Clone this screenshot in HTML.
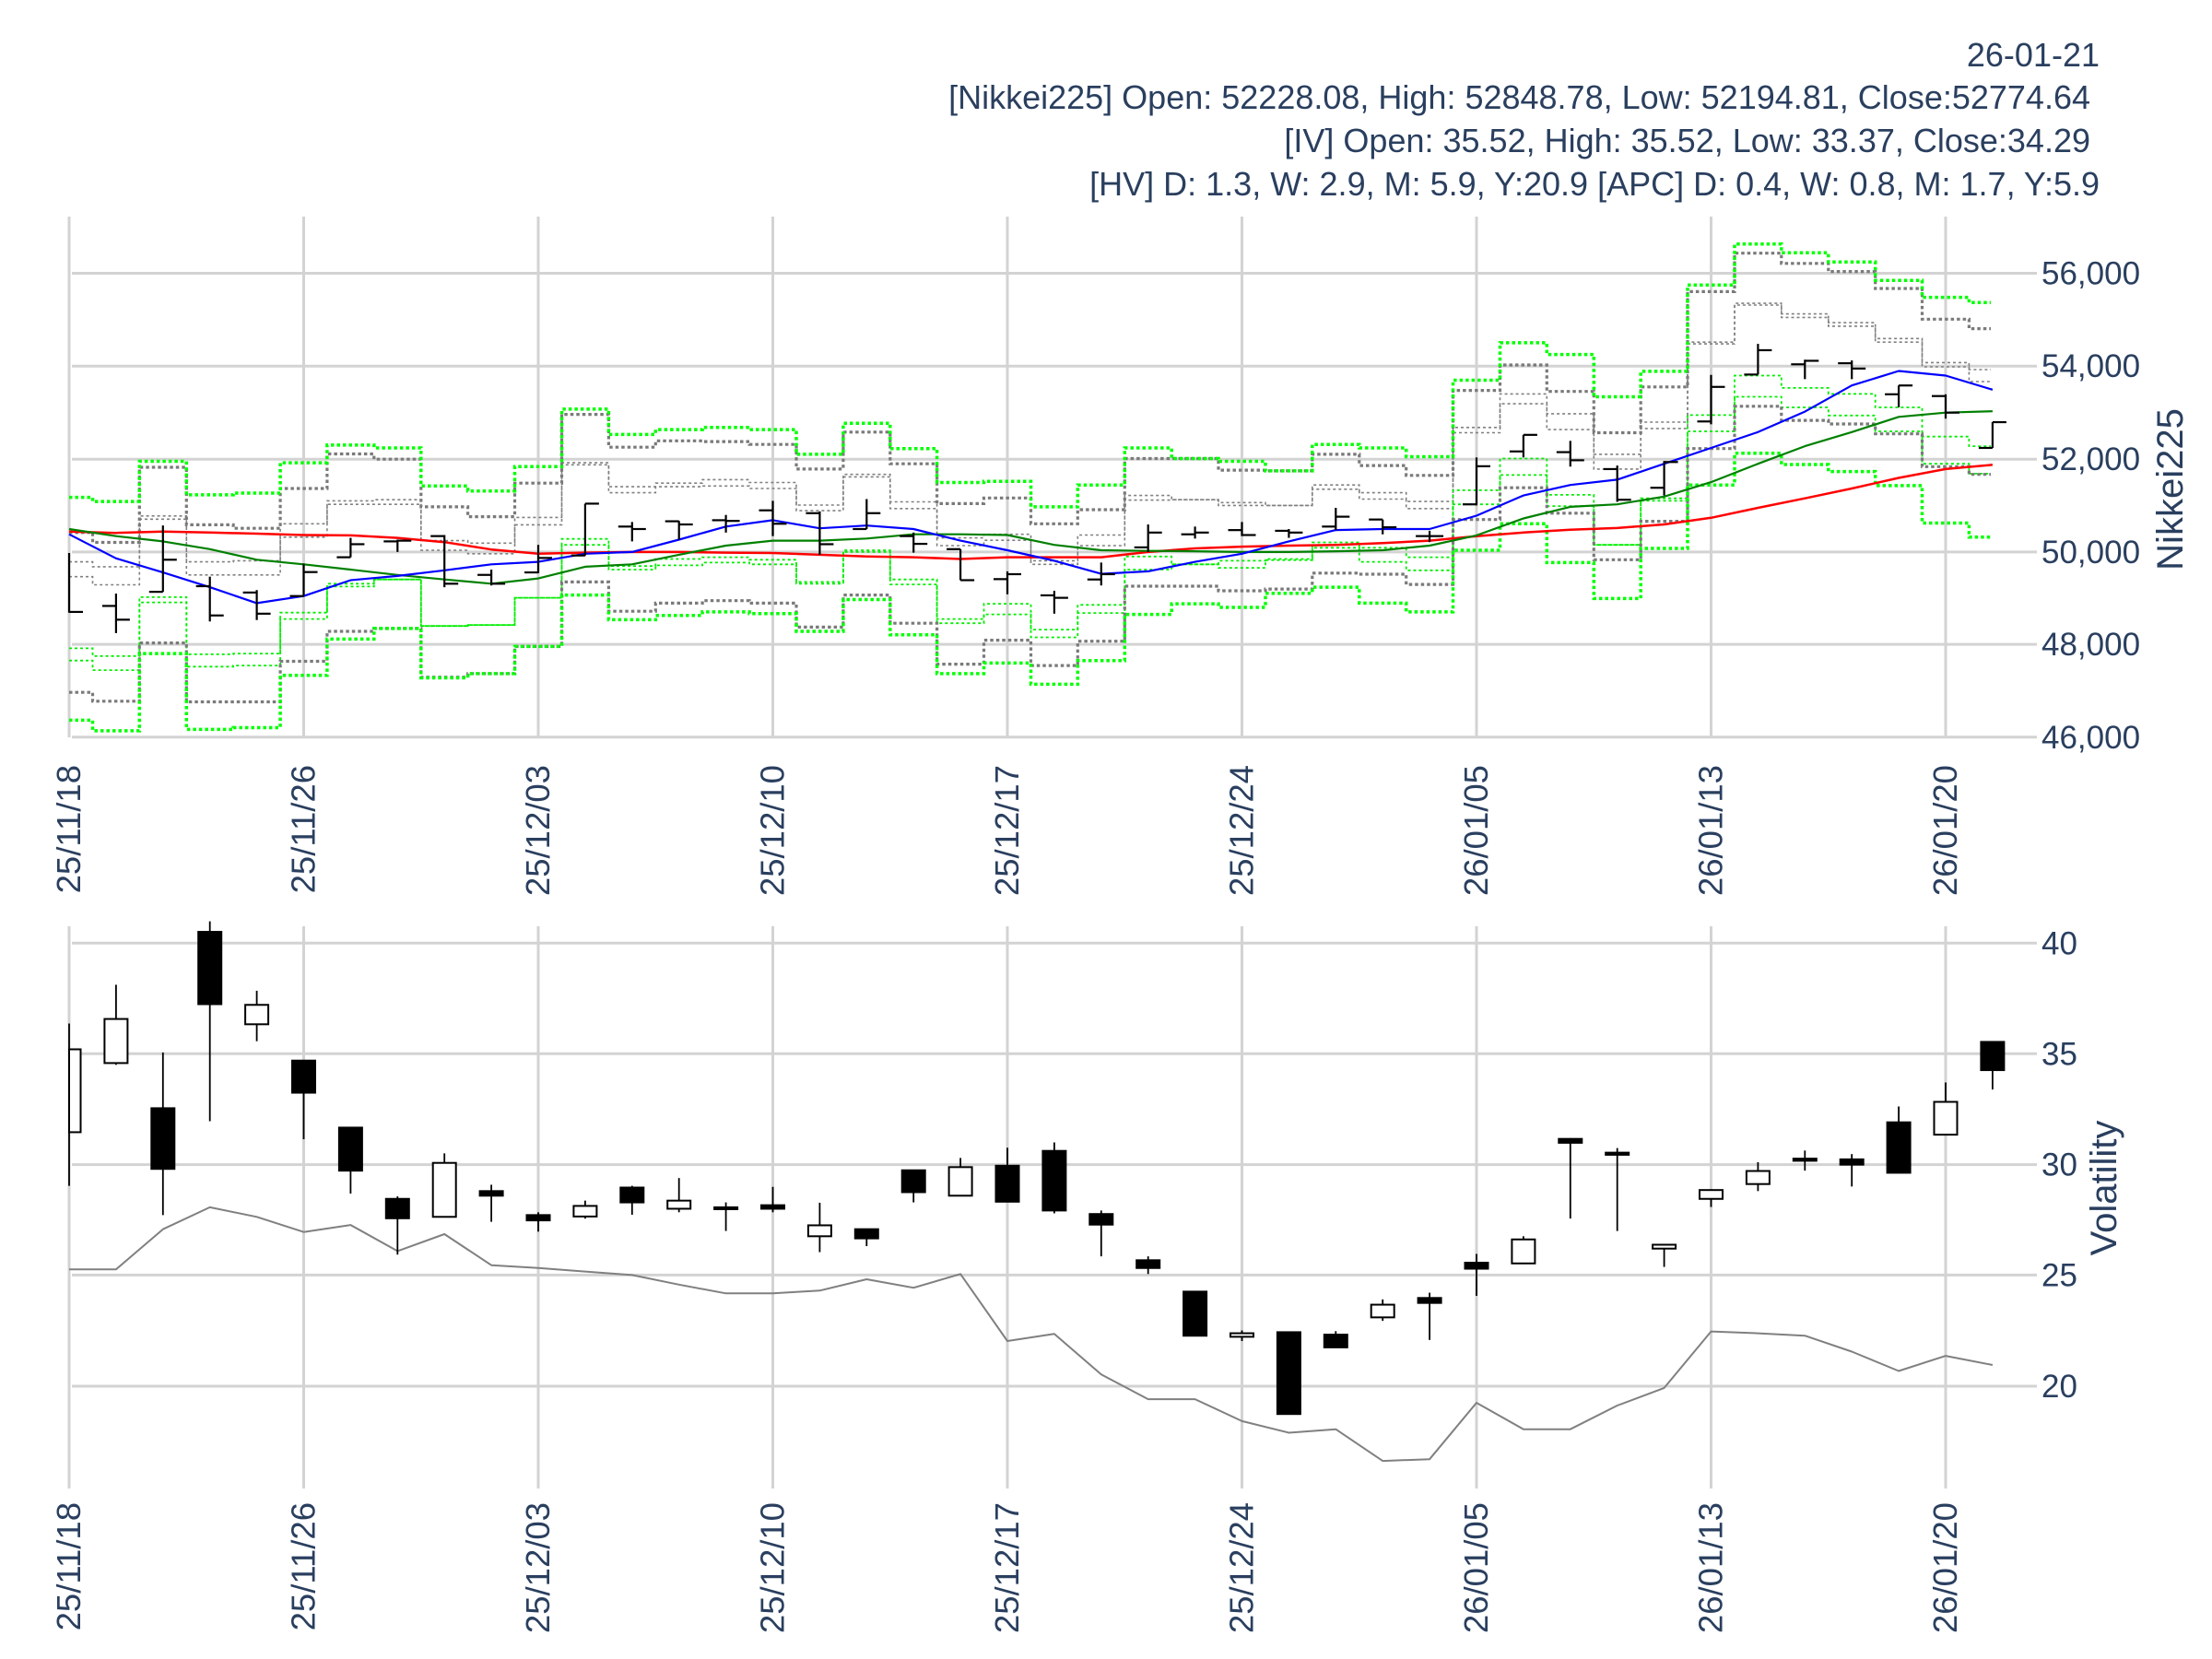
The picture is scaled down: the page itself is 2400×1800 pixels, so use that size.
<!DOCTYPE html>
<html><head><meta charset="utf-8"><style>
html,body{margin:0;padding:0;background:#fff;}
svg{display:block;font-family:"Liberation Sans",sans-serif;}
</style></head><body>
<svg id="s" xmlns="http://www.w3.org/2000/svg" width="2400" height="1800" viewBox="0 0 2400 1800">
<rect width="2400" height="1800" fill="#fff"/>
<g fill="#2a3f5f" font-size="36" text-anchor="end">
<text x="2278" y="72">26-01-21</text>
<text x="2268" y="118">[Nikkei225] Open: 52228.08, High: 52848.78, Low: 52194.81, Close:52774.64</text>
<text x="2268" y="165">[IV] Open: 35.52, High: 35.52, Low: 33.37, Close:34.29</text>
<text x="2278" y="212">[HV] D: 1.3, W: 2.9, M: 5.9, Y:20.9 [APC] D: 0.4, W: 0.8, M: 1.7, Y:5.9</text>
</g>
<g id="grid"></g>
<g id="series"></g>
<g id="labels" fill="#2a3f5f" font-size="35"></g>
</svg>
<script>
(function(){
var NS="http://www.w3.org/2000/svg";
function el(p,t,a,txt){var e=document.createElementNS(NS,t);for(var k in a)e.setAttribute(k,a[k]);if(txt!=null)e.textContent=txt;p.appendChild(e);return e;}
var grid=document.getElementById('grid'),ser=document.getElementById('series'),lab=document.getElementById('labels');
function X(i){return 75+50.9*i;}
function TY(py){return 220+py/2.613;}
function BY(py){return 990+py/2.613;}
var gc="#d3d3d3";
var pv=[[296.5,"56,000"],[397.2,"54,000"],[498.2,"52,000"],[598.9,"50,000"],[699.1,"48,000"],[799.8,"46,000"]];
pv.forEach(function(p){el(grid,'line',{x1:78,x2:2210,y1:p[0],y2:p[0],stroke:gc,'stroke-width':3});el(lab,'text',{x:2215,y:p[0]+12},p[1]);});
var bv=[[1023.3,"40"],[1143.3,"35"],[1263.6,"30"],[1383.4,"25"],[1504,"20"]];
bv.forEach(function(p){el(grid,'line',{x1:78,x2:2210,y1:p[0],y2:p[0],stroke:gc,'stroke-width':3});el(lab,'text',{x:2215,y:p[0]+12},p[1]);});
var dates=["25/11/18","25/11/26","25/12/03","25/12/10","25/12/17","25/12/24","26/01/05","26/01/13","26/01/20"];
dates.forEach(function(d,k){var x=X(5*k);
 el(grid,'line',{x1:x,x2:x,y1:235,y2:800,stroke:gc,'stroke-width':3});
 el(grid,'line',{x1:x,x2:x,y1:1005,y2:1615,stroke:gc,'stroke-width':3});
 el(lab,'text',{x:x+12,y:830,transform:'rotate(-90 '+(x+12)+' 830)','text-anchor':'end','font-size':36.5},d);
 el(lab,'text',{x:x+12,y:1630,transform:'rotate(-90 '+(x+12)+' 1630)','text-anchor':'end','font-size':36.5},d);
});
el(lab,'text',{x:2368,y:531,transform:'rotate(-90 2368 531)','text-anchor':'middle','font-size':40},"Nikkei225");
el(lab,'text',{x:2296,y:1289,transform:'rotate(-90 2296 1289)','text-anchor':'middle','font-size':40},"Volatility");
var B=[
[835,935,1018,1060,1263,1298,1388,1467],
[847,963,1032,1083,1285,1325,1413,1497],
[733,750,888,897,1118,1133,1248,1278],
[828,913,1018,1055,1280,1315,1415,1493],
[823,923,1015,1055,1278,1312,1415,1488],
[737,810,910,948,1162,1180,1300,1340],
[687,712,845,855,1080,1088,1215,1237],
[695,727,842,855,1068,1068,1207,1207],
[803,862,958,985,1200,1200,1345,1347],
[817,890,965,995,1197,1197,1335,1335],
[748,795,892,913,1120,1120,1258,1258],
[585,600,737,743,953,970,1075,1112],
[657,693,805,822,1030,1040,1158,1182],
[643,675,795,805,1010,1028,1135,1170],
[637,677,785,803,1005,1020,1128,1160],
[643,685,793,810,1012,1025,1135,1165],
[713,755,857,873,1075,1080,1203,1215],
[625,650,770,777,985,990,1112,1125],
[697,740,848,867,1068,1082,1192,1225],
[793,853,950,972,1180,1192,1308,1335],
[790,837,940,957,1137,1167,1240,1305],
[862,910,1015,1025,1210,1232,1312,1365],
[800,870,942,972,1140,1163,1243,1298],
[695,725,830,843,1003,1040,1087,1167],
[725,725,842,842,1025,1025,1087,1137],
[733,758,850,858,1015,1035,1100,1147],
[760,760,858,858,1010,1013,1095,1107],
[685,713,800,812,963,978,1050,1090],
[695,745,822,840,978,1018,1053,1135],
[720,773,847,867,1005,1042,1082,1160],
[503,532,637,652,815,855,898,985],
[397,460,542,570,725,772,808,910],
[430,535,598,643,828,860,880,1020],
[550,652,713,755,970,970,1012,1122],
[478,522,622,640,838,845,903,980],
[233,252,395,400,602,648,697,800],
[117,143,285,290,490,550,577,710],
[142,172,315,325,525,580,617,742],
[168,195,340,350,542,603,627,762],
[220,243,385,395,580,648,655,802],
[268,330,453,465,663,740,748,908],
[283,357,473,507,690,768,770,948]];
var N=B.length,h=25.45;
function stepPath(k){var d="";for(var i=0;i<N;i++){var y=TY(B[i][k]);var x0=Math.max(75,X(i)-h),x1=Math.min(2160,X(i)+h);
 if(i==0)d+="M"+x0+","+y.toFixed(1);else d+="V"+y.toFixed(1);d+="H"+x1.toFixed(1);}return d;}
var styles=[["#808080",1.6,"3,3",3],["#808080",1.6,"3,3",2],["#00ee00",1.8,"3,3",4],["#00ee00",1.8,"3,3",5],
["#7a7a7a",3.2,"3.5,3",1],["#7a7a7a",3.2,"3.5,3",6],["#00ff00",3.5,"3.5,3",0],["#00ff00",3.5,"3.5,3",7]];
styles.forEach(function(s){el(ser,'path',{d:stepPath(s[3]),fill:'none',stroke:s[0],'stroke-width':s[1],'stroke-dasharray':s[2]});});
function line(arr,col,w,f){var d="";arr.forEach(function(v,i){d+=(i?"L":"M")+X(i).toFixed(1)+","+f(v).toFixed(1);});el(ser,'path',{d:d,fill:'none',stroke:col,'stroke-width':w,'stroke-linejoin':'round'});}
var red=[932,936,932,935,938,942,943,950,962,983,995,992,990,990,992,993,998,1003,1005,1010,1005,1005,1005,990,980,975,972,970,965,958,945,935,927,922,912,893,865,838,810,780,755,743];
var green=[925,945,960,982,1012,1025,1040,1055,1068,1080,1065,1032,1025,998,972,958,958,952,940,940,942,970,985,987,988,990,990,988,985,972,943,895,862,855,833,792,740,690,650,607,595,591];
var blue=[940,1008,1048,1090,1135,1115,1070,1058,1042,1025,1018,995,990,955,918,900,923,915,925,958,985,1015,1052,1045,1018,995,960,928,925,925,887,830,800,785,740,695,650,592,518,477,490,530];
line(red,"#ff0000",2.5,TY);line(green,"#008000",2.2,TY);line(blue,"#0000ff",2.2,TY);
var O=[[993,1162,1000,1160],[1108,1220,1143,1182],[915,1103,1103,1012],[1060,1187,1087,1170],[1098,1183,1105,1165],[1023,1115,1115,1047],[950,1005,1005,968],[955,990,960,958],[942,1090,945,1080],[1040,1085,1055,1080],[970,1050,1048,1007],[853,1000,1000,853],[905,960,918,925],[902,955,903,912],[885,935,900,902],[845,945,872,910],[875,998,880,968],[840,925,925,880],[935,992,945,967],[982,1070,982,1070],[1045,1110,1067,1053],[1100,1165,1113,1120],[1020,1085,1068,1053],[912,990,977,935],[918,952,940,935],[905,945,928,942],[925,950,930,935],[865,928,918,890],[898,940,898,920],[930,962,945,945],[722,858,855,747],[658,722,705,658],[675,748,707,730],[745,848,755,842],[732,830,808,735],[488,628,620,522],[400,487,487,418],[445,500,458,448],[447,500,455,470],[518,580,543,518],[543,612,548,595],[622,695,695,622]];
O.forEach(function(o,i){var x=X(i);var g=el(ser,'g',{stroke:'#000','stroke-width':2.2});
 el(g,'line',{x1:x,x2:x,y1:TY(o[0]),y2:TY(o[1])});
 if(i>0)el(g,'line',{x1:x-15,x2:x,y1:TY(o[2]),y2:TY(o[2])});
 el(g,'line',{x1:x,x2:x+15,y1:TY(o[3]),y2:TY(o[3])});});
var hv=[1012,1012,898,836,863,906,886,960,912,1000,1008,1018,1028,1055,1080,1080,1072,1040,1064,1025,1215,1195,1310,1380,1380,1442,1475,1465,1555,1550,1390,1465,1465,1398,1348,1188,1193,1200,1245,1300,1257,1283];
line(hv,"#808080",2,BY);
var C=[[315,775,388,623,0],[205,432,302,427,0],[397,858,555,727,1],[25,592,55,260,1],[222,365,262,317,0],[420,643,420,511,1],[610,797,610,732,1],[805,970,812,867,1],[683,865,710,863,0],[772,877,790,803,1],[850,905,858,873,1],[817,868,832,862,0],[775,857,780,822,1],[753,850,817,840,0],[822,903,836,841,1],[778,850,830,840,1],[823,963,887,918,0],[897,946,898,924,1],[730,822,731,793,1],[696,803,722,803,0],[667,820,718,820,1],[652,853,676,845,1],[845,975,855,885,1],[975,1025,986,1008,1],[1075,1200,1075,1200,1],[1185,1215,1193,1203,0],[1190,1422,1190,1422,1],[1187,1233,1197,1233,1],[1097,1158,1112,1148,0],[1078,1212,1093,1107,1],[968,1087,993,1010,1],[918,997,927,995,0],[640,868,642,653,1],[668,903,681,687,1],[943,1005,942,953,0],[785,835,787,812,0],[708,790,733,770,0],[675,732,698,704,1],[685,777,700,715,1],[550,738,595,738,1],[482,630,537,630,0],[367,502,367,447,1]];
C.forEach(function(c,i){var x=X(i);var g=el(ser,'g',{stroke:'#000','stroke-width':2});
 el(g,'line',{x1:x,x2:x,y1:BY(c[0]),y2:BY(c[1]),'stroke-width':1.8});
 var x0=Math.max(75,x-12.5),w=x+12.5-x0;var y0=BY(c[2]),hh=Math.max(2,BY(c[3])-y0);
 el(g,'rect',{x:x0,y:y0,width:w,height:hh,fill:c[4]?'#000':'#fff'});});
})();
</script>
</body></html>
